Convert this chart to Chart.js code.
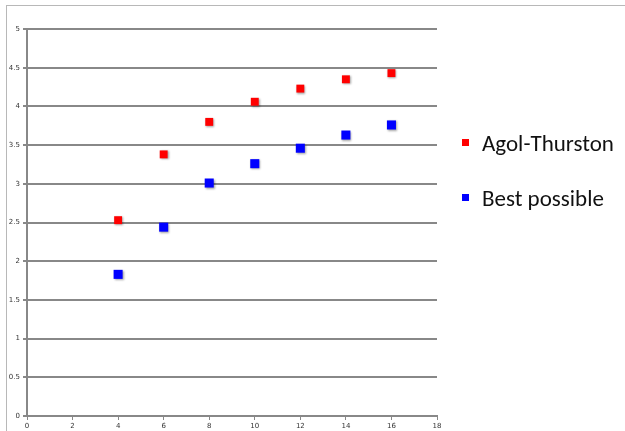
<!DOCTYPE html>
<html>
<head>
<meta charset="utf-8">
<script src="https://cdn.jsdelivr.net/npm/chart.js@4/dist/chart.umd.min.js"></script>
<style>
  html, body { margin: 0; padding: 0; background: #fff; }
  #wrap { position: relative; width: 625px; height: 431px; overflow: hidden; }
  #frame { position: absolute; left: 6px; top: 5px; width: 700px; height: 500px;
           border-top: 1px solid #b8b8b8; border-left: 1px solid #b8b8b8; }
  #main-chart { position: absolute; left: 0; top: 0; }
  #legend { position: absolute; left: 462px; top: 128px; font-family: Carlito, Lato, sans-serif;
            font-size: 23px; color: #111; }
  .item { position: relative; height: 55px; padding-left: 20px; line-height: 30px; white-space: nowrap; }
  .swatch { position: absolute; left: 0; top: 11px; width: 7px; height: 7px; }
</style>
</head>
<body>
<div id="wrap">
  <div id="frame"></div>
  <canvas id="main-chart" width="625" height="431"></canvas>
  <div id="legend"></div>
</div>
<script>
// values
const xValues = [4, 6, 8, 10, 12, 14, 16];
const agolThurston = [2.53, 3.38, 3.80, 4.06, 4.23, 4.35, 4.43];
const bestPossible = [1.83, 2.44, 3.01, 3.26, 3.46, 3.63, 3.76];

const SERIES = [
  { label: 'Agol-Thurston', values: agolThurston, color: '#ff0000', radius: 5.6 },
  { label: 'Best possible', values: bestPossible, color: '#0000ff', radius: 6.4 },
];

const TICK_FONT = { family: "'DejaVu Sans', sans-serif", size: 7 };

const datasets = SERIES.map(s => ({
  label: s.label,
  data: xValues.map((x, i) => ({ x, y: s.values[i] })),
  pointStyle: 'rect',
  pointRadius: s.radius,
  backgroundColor: s.color,
  borderColor: s.color,
  borderWidth: 0,
  showLine: false,
}));

// shadow under the markers, like the original
const shadow = {
  id: 'shadow',
  beforeDatasetsDraw(chart) {
    chart.ctx.save();
    chart.ctx.shadowColor = 'rgba(0,0,0,0.35)';
    chart.ctx.shadowBlur = 2;
    chart.ctx.shadowOffsetX = 1;
    chart.ctx.shadowOffsetY = 1;
  },
  afterDatasetsDraw(chart) { chart.ctx.restore(); }
};

new Chart(document.getElementById('main-chart'), {
  type: 'scatter',
  data: { datasets },
  plugins: [shadow],
  options: {
    responsive: false,
    animation: false,
    layout: { padding: { top: 29, right: 188, left: 0, bottom: 0 } },
    plugins: { legend: { display: false }, tooltip: { enabled: false } },
    scales: {
      x: {
        min: 0, max: 18,
        ticks: { stepSize: 2, color: '#333', font: TICK_FONT, padding: 2, maxRotation: 0 },
        grid: { drawOnChartArea: false, color: '#888', tickLength: 4, lineWidth: 1 },
        border: { color: '#888', width: 2 },
        afterFit: (s) => { s.height = 15; }
      },
      y: {
        min: 0, max: 5,
        ticks: { stepSize: 0.5, color: '#333', font: TICK_FONT, padding: 3,
                 callback: (v) => String(v) },
        grid: { color: '#888', lineWidth: 2, tickLength: 4 },
        border: { color: '#888', width: 2 },
        afterFit: (s) => { s.width = 27; }
      }
    }
  }
});

// legend
const legend = document.getElementById('legend');
SERIES.forEach(s => {
  const item = document.createElement('div');
  item.className = 'item';
  item.innerHTML = `<span class="swatch" style="background:${s.color}"></span>${s.label}`;
  legend.appendChild(item);
});
</script>
</body>
</html>
